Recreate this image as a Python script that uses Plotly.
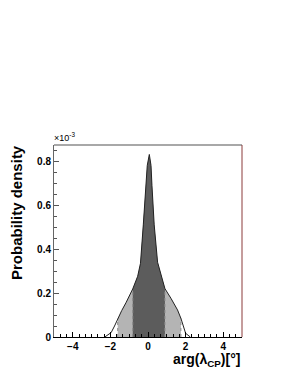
import plotly.graph_objects as go

# Data (density in units of 1e-3)
x_pts = [-2.3, -1.96, -1.78, -1.61, -1.4, -1.17, -0.81, -0.55, -0.4, -0.25, -0.1, -0.04,
         0.07, 0.16, 0.21, 0.33, 0.51, 0.69, 0.9, 1.22, 1.57, 1.75, 1.84, 2.0, 2.25]
y_pts = [0, 0.02, 0.05, 0.083, 0.12, 0.156, 0.219, 0.276, 0.335, 0.51, 0.69, 0.78,
         0.83, 0.78, 0.69, 0.51, 0.34, 0.29, 0.22, 0.176, 0.123, 0.085, 0.062, 0.017, 0]
outer_range = [-1.61, 1.75]   # light band
inner_range = [-0.81, 0.9]    # dark band
x_ticks = [-4, -2, 0, 2, 4]
y_ticks = [0, 0.2, 0.4, 0.6, 0.8]

FONT = "Liberation Sans, Arial, sans-serif"
NARROW = "Liberation Sans Narrow, Arial Narrow, Liberation Sans, sans-serif"


def band(lo, hi):
    xs = [x for x in x_pts if lo <= x <= hi]
    ys = [y for x, y in zip(x_pts, y_pts) if lo <= x <= hi]
    return xs, ys


fig = go.Figure()
lx, ly = band(*outer_range)
fig.add_trace(go.Scatter(x=lx, y=ly, mode="lines", fill="tozeroy",
                         fillcolor="#b4b4b4", line=dict(width=0), hoverinfo="skip"))
dx, dy = band(*inner_range)
fig.add_trace(go.Scatter(x=dx, y=dy, mode="lines", fill="tozeroy",
                         fillcolor="#5c5c5c", line=dict(width=0), hoverinfo="skip"))
for lo, hi in (outer_range, inner_range):
    for xe in (lo, hi):
        ye = y_pts[x_pts.index(xe)]
        fig.add_trace(go.Scatter(x=[xe, xe], y=[0, ye], mode="lines",
                                 line=dict(color="#8a8a8a", width=1, dash="dot"),
                                 hoverinfo="skip"))
fig.add_trace(go.Scatter(x=x_pts, y=y_pts, mode="lines",
                         line=dict(color="#222222", width=1)))

fig.update_layout(
    width=291, height=376,
    margin=dict(l=46, r=57, t=137, b=47, autoexpand=False),
    paper_bgcolor="white", plot_bgcolor="white",
    showlegend=False,
    font=dict(family=FONT, color="black"),
    xaxis=dict(range=[-5, 5], tickvals=x_ticks, ticks="inside", ticklen=5,
               tickcolor="black", showline=True, linecolor="black", linewidth=1,
               showgrid=False, zeroline=False, automargin=False,
               tickfont=dict(size=10, family=FONT, weight="bold"),
               minor=dict(dtick=1/3, tick0=0, ticks="inside", ticklen=3,
                          tickcolor="black", showgrid=False)),
    yaxis=dict(range=[0, 0.873], tickvals=y_ticks, ticks="inside", ticklen=5,
               tickcolor="#555555", showline=True, linecolor="#666666", linewidth=1,
               showgrid=False, zeroline=False, automargin=False,
               tickfont=dict(size=10, family=FONT, weight="bold"),
               minor=dict(dtick=0.05, tick0=0, ticks="inside", ticklen=3,
                          tickcolor="#555555", showgrid=False)),
    shapes=[
        dict(type="line", xref="paper", yref="paper", x0=0, x1=1, y0=1, y1=1,
             line=dict(color="#a8a8a8", width=2)),
        dict(type="line", xref="paper", yref="paper", x0=1, x1=1, y0=0, y1=1,
             line=dict(color="#8b3a3a", width=1)),
    ],
    annotations=[
        dict(text="Probability density", xref="paper", yref="paper",
             x=-0.2, y=1.01, xanchor="center", yanchor="top", textangle=-90,
             showarrow=False, font=dict(size=15, family=NARROW, weight="bold")),
        dict(text="arg(λ<sub>CP</sub>)[°]", xref="paper", yref="paper",
             x=1.0, y=-0.12, xanchor="right", yanchor="middle",
             showarrow=False, font=dict(size=14, family=FONT, weight="bold")),
        dict(text="×10<sup>-3</sup>", xref="paper", yref="paper",
             x=-0.01, y=1.0, xanchor="left", yanchor="bottom",
             showarrow=False, font=dict(size=9, family=FONT)),
    ],
)

fig.write_html("out.html")
